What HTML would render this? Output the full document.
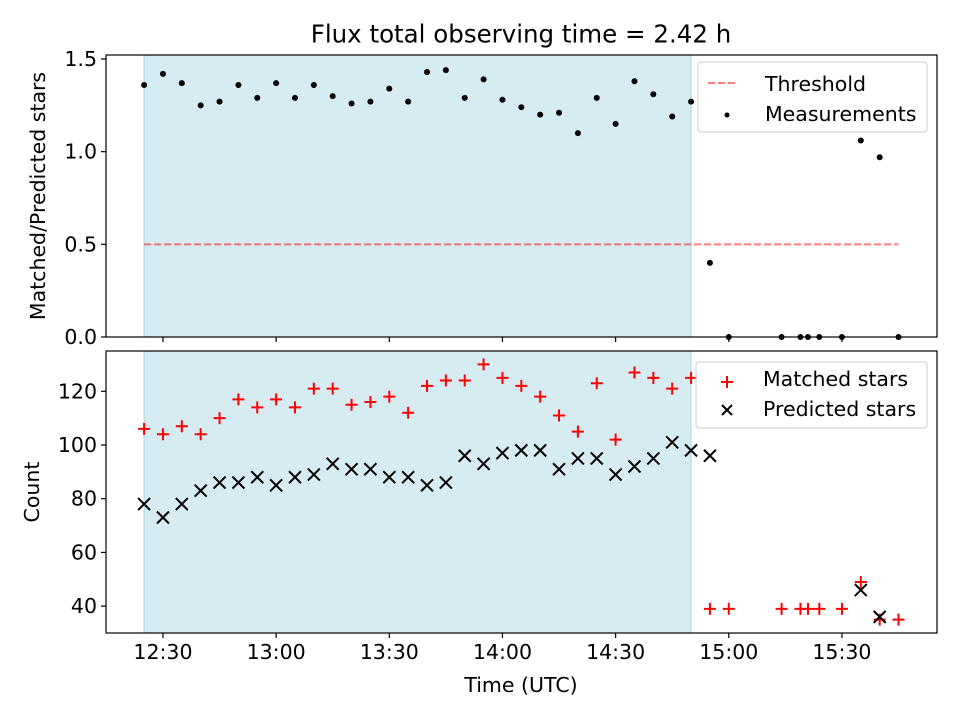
<!DOCTYPE html>
<html><head><meta charset="utf-8"><style>
body{margin:0;background:#fff;font-family:"Liberation Sans","DejaVu Sans",sans-serif}
svg text{font-family:"DejaVu Sans","Liberation Sans",sans-serif;font-size:20.5px;fill:#000}
</style></head><body>
<svg id="c" width="960" height="720"></svg>
<script>
const topTimes=["12:25","12:30","12:35","12:40","12:45","12:50","12:55","13:00","13:05","13:10","13:15","13:20","13:25","13:30","13:35","13:40","13:45","13:50","13:55","14:00","14:05","14:10","14:15","14:20","14:25","14:30","14:35","14:40","14:45","14:50","14:55","15:00","15:14","15:19","15:21","15:24","15:30","15:35","15:40","15:45"];
const ratioValues=[1.36,1.42,1.37,1.25,1.27,1.36,1.29,1.37,1.29,1.36,1.30,1.26,1.27,1.34,1.27,1.43,1.44,1.29,1.39,1.28,1.24,1.20,1.21,1.10,1.29,1.15,1.38,1.31,1.19,1.27,0.40,0,0,0,0,0,0,1.06,0.97,0];
const matchedValues=[106,104,107,104,110,117,114,117,114,121,121,115,116,118,112,122,124,124,130,125,122,118,111,105,123,102,127,125,121,125,39,39,39,39,39,39,39,49,35,35];
const predTimes=["12:25","12:30","12:35","12:40","12:45","12:50","12:55","13:00","13:05","13:10","13:15","13:20","13:25","13:30","13:35","13:40","13:45","13:50","13:55","14:00","14:05","14:10","14:15","14:20","14:25","14:30","14:35","14:40","14:45","14:50","14:55","15:35","15:40"];
const predValues=[78,73,78,83,86,86,88,85,88,89,93,91,91,88,88,85,86,96,93,97,98,98,91,95,95,89,92,95,101,98,96,46,36];
const xTickLabels=["12:30","13:00","13:30","14:00","14:30","15:00","15:30"];
const topTicks=[0,0.5,1.0,1.5];
const botTicks=[40,60,80,100,120];
const shadeStart="12:25", shadeEnd="14:50", threshold=0.5;

const svg=document.getElementById('c');const NS='http://www.w3.org/2000/svg';
function el(t,a,p){const e=document.createElementNS(NS,t);for(const k in a)e.setAttribute(k,a[k]);(p||svg).appendChild(e);return e;}
const L=106,R=937,T1=55,B1=337,T2=351,B2=633;
const mins=s=>{const[h,m]=s.split(':').map(Number);return h*60+m;};
const x=s=>L+(mins(s)-(12*60+14.9))/(15*60+55.2-(12*60+14.9))*(R-L);
const y1=v=>B1-(v-0)/(1.5216)*(B1-T1);
const y2=v=>B2-(v-30)/(135-30)*(B2-T2);

let s=el('rect',{x:x(shadeStart),y:T1,width:x(shadeEnd)-x(shadeStart),height:B1-T1,fill:'#add8e6','fill-opacity':0.5,stroke:'#add8e6'});

s=el('rect',{x:x(shadeStart),y:T2,width:x(shadeEnd)-x(shadeStart),height:B2-T2,fill:'#add8e6','fill-opacity':0.5,stroke:'#add8e6'});


let th=el('line',{x1:x("12:25"),x2:x("15:45"),y1:y1(threshold),y2:y1(threshold),stroke:'#ff0000','stroke-opacity':0.5,'stroke-width':2,'stroke-dasharray':'7,3'});


ratioValues.forEach((v,i)=>{const c=el('circle',{cx:x(topTimes[i]),cy:y1(v),r:3,fill:'#000'});
});
matchedValues.forEach((v,i)=>{const g=el('g',{});const cx=x(topTimes[i]),cy=y2(v);
el('path',{d:`M${cx-6} ${cy}H${cx+6}M${cx} ${cy-6}V${cy+6}`,stroke:'#f00','stroke-width':2},g);
});
predValues.forEach((v,i)=>{const g=el('g',{});const cx=x(predTimes[i]),cy=y2(v);
el('path',{d:`M${cx-6} ${cy-6}L${cx+6} ${cy+6}M${cx+6} ${cy-6}L${cx-6} ${cy+6}`,stroke:'#000','stroke-width':2},g);
});

[[T1,B1,'top-axes'],[T2,B2,'bottom-axes']].forEach(([t,b,n])=>{const r=el('rect',{x:L,y:t,width:R-L,height:b-t,fill:'none',stroke:'#000','stroke-width':1.2});
});
xTickLabels.forEach(lb=>{const xx=x(lb);
el('line',{x1:xx,x2:xx,y1:B1,y2:B1+5,stroke:'#000','stroke-width':1.2});el('line',{x1:xx,x2:xx,y1:B2,y2:B2+5,stroke:'#000','stroke-width':1.2});
const t=el('text',{x:xx,y:B2+19,'text-anchor':'middle','dominant-baseline':'central'});t.textContent=lb;
});
topTicks.forEach(v=>{const yy=y1(v);el('line',{x1:L-5,x2:L,y1:yy,y2:yy,stroke:'#000','stroke-width':1.2});
const t=el('text',{x:L-9,y:yy,'text-anchor':'end','dominant-baseline':'central'});t.textContent=v.toFixed(1);
});
botTicks.forEach(v=>{const yy=y2(v);el('line',{x1:L-5,x2:L,y1:yy,y2:yy,stroke:'#000','stroke-width':1.2});
const t=el('text',{x:L-9,y:yy,'text-anchor':'end','dominant-baseline':'central'});t.textContent=v;
});

function txt(x0,y0,str,name,extra){const t=el('text',Object.assign({x:x0,y:y0,'dominant-baseline':'central'},extra||{}));t.textContent=str;
return t;}
txt(521,34,'Flux total observing time = 2.42 h','chart-title',{'text-anchor':'middle','style':'font-size:24.5px'});
txt(521,685,'Time (UTC)','x-axis-title',{'text-anchor':'middle'});
txt(38,196,'Matched/Predicted stars','top-y-axis-title',{'text-anchor':'middle',transform:'rotate(-90 38 196)'});
txt(32,492,'Count','bottom-y-axis-title',{'text-anchor':'middle',transform:'rotate(-90 32 492)'});

let lg=el('g',{});
el('rect',{x:698,y:62,width:229,height:70,rx:3,fill:'#fff','fill-opacity':0.8,stroke:'#ccc'},lg);
el('line',{x1:708,x2:736,y1:83,y2:83,stroke:'#f00','stroke-opacity':0.5,'stroke-width':2,'stroke-dasharray':'7,3'},lg);
el('circle',{cx:727,cy:115,r:2.5,fill:'#000'},lg);
txt(765,84,'Threshold','legend-threshold');txt(765,114,'Measurements','legend-measurements');
lg=el('g',{});
el('rect',{x:696,y:362,width:231,height:66,rx:3,fill:'#fff','fill-opacity':0.8,stroke:'#ccc'},lg);
el('path',{d:'M721 382H733M727 376V388',stroke:'#f00','stroke-width':2},lg);
el('path',{d:'M722 405L732 415M732 405L722 415',stroke:'#000','stroke-width':2},lg);
txt(763,379,'Matched stars','legend-matched');txt(763,409,'Predicted stars','legend-predicted');
</script></body></html>
